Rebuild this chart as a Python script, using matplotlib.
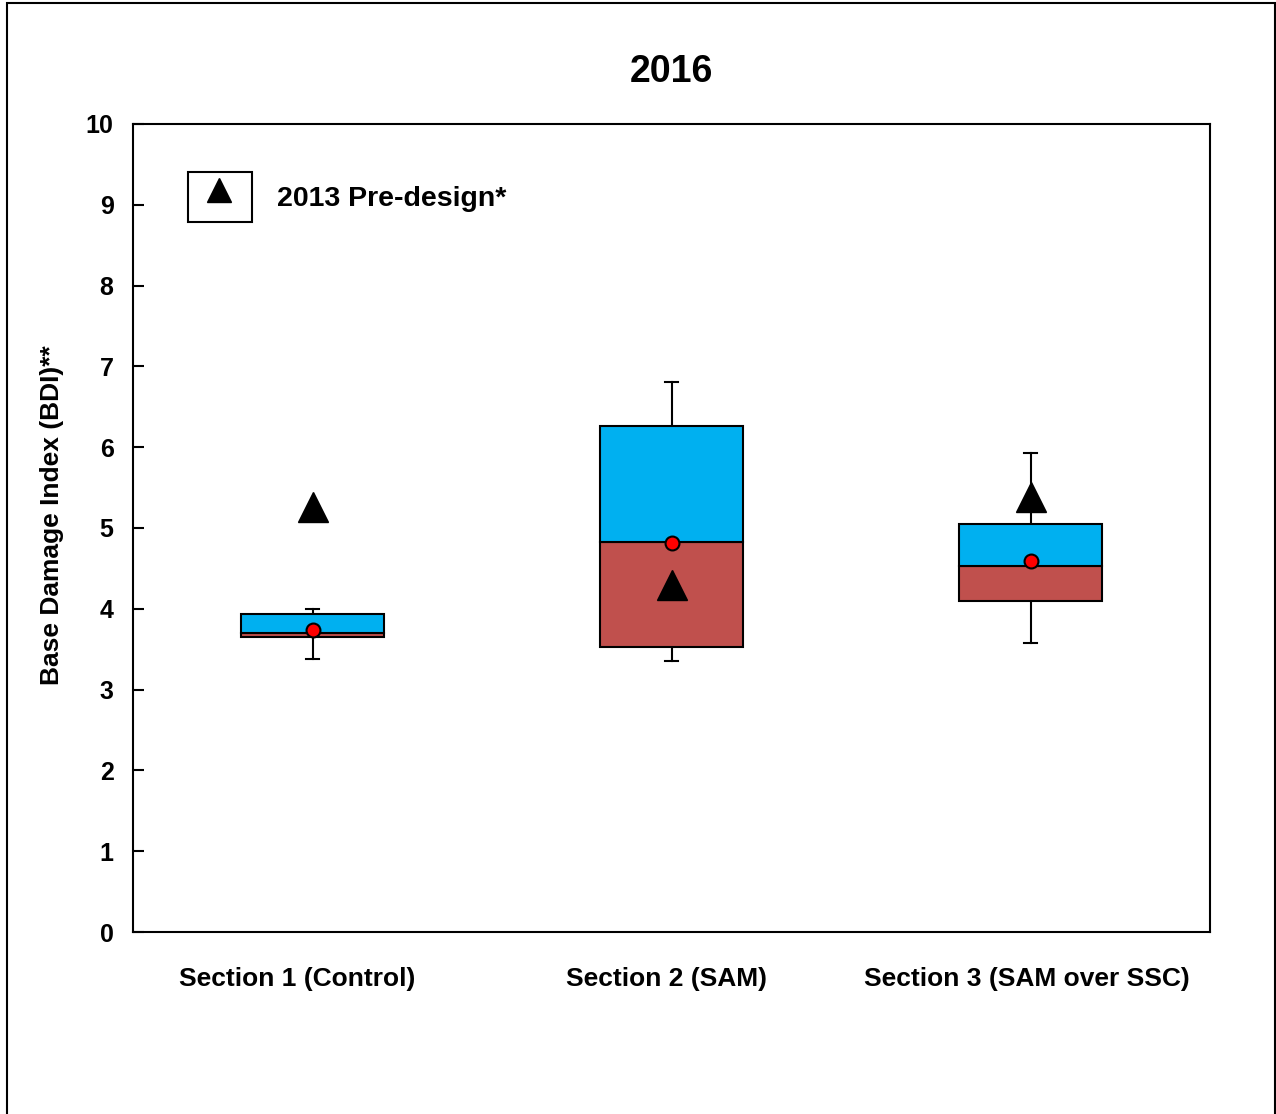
import matplotlib.pyplot as plt
from matplotlib.patches import Rectangle
from matplotlib.transforms import ScaledTranslation

plt.rcParams['font.family'] = ['Liberation Sans', 'DejaVu Sans']
plt.rcParams['font.weight'] = 'bold'

sections = ["Section 1 (Control)", "Section 2 (SAM)", "Section 3 (SAM over SSC)"]
whisker_low = [3.38, 3.35, 3.58]
q1 = [3.65, 3.53, 4.10]
median = [3.70, 4.83, 4.53]
q3 = [3.94, 6.26, 5.05]
whisker_high = [4.00, 6.81, 5.93]
mean = [3.74, 4.81, 4.59]
predesign_2013 = [5.26, 4.29, 5.38]

blue = "#00B0F0"
brown = "#C0504D"

fig = plt.figure(figsize=(12.76, 11.14), dpi=100)
ax = fig.add_axes([133 / 1276, 1 - 932 / 1114, 1077 / 1276, 808 / 1114])

pos = [1, 2, 3]
width = 0.4
lw = 1.5

for i, x in enumerate(pos):
    # whiskers + caps
    ax.plot([x, x], [whisker_low[i], q1[i]], color="black", lw=lw, zorder=1)
    ax.plot([x, x], [q3[i], whisker_high[i]], color="black", lw=lw, zorder=1)
    ax.plot([x - 0.017, x + 0.017], [whisker_low[i]] * 2, color="black", lw=lw, zorder=1)
    ax.plot([x - 0.017, x + 0.017], [whisker_high[i]] * 2, color="black", lw=lw, zorder=1)

# lower half of box (Q1..median) and upper half (median..Q3)
ax.bar(pos, [m - a for m, a in zip(median, q1)], bottom=q1, width=width,
       color=brown, edgecolor="black", linewidth=lw, zorder=2)
ax.bar(pos, [b - m for b, m in zip(q3, median)], bottom=median, width=width,
       color=blue, edgecolor="black", linewidth=lw, zorder=2)

ax.plot(pos, mean, "o", color="red", markersize=10, markeredgecolor="black",
        markeredgewidth=1.5, zorder=4)
ax.plot(pos, predesign_2013, "^", color="black", markersize=22, zorder=3)

ax.set_xlim(0.5, 3.5)
ax.set_ylim(0, 10)
ax.set_yticks(range(0, 11))
ax.tick_params(axis="y", direction="in", length=8, width=lw, labelsize=18, pad=14)
ax.set_xticks(pos)
ax.set_xticklabels(sections, fontsize=19)
ax.tick_params(axis="x", length=0, pad=25)
for lab, dx in zip(ax.get_xticklabels(), [-15, -5, -4]):
    lab.set_transform(lab.get_transform() + ScaledTranslation(dx / 100, 0, fig.dpi_scale_trans))
for s in ax.spines.values():
    s.set_linewidth(lw)

ax.set_ylabel("Base Damage Index (BDI)**", fontsize=19, fontweight="bold")
ax.yaxis.set_label_coords(-0.064, 0.516)
ax.set_title("2016", fontsize=27, fontweight="bold", pad=30)

# legend box with the pre-design marker
ax.add_patch(Rectangle((55 / 1077, 1 - 98 / 808), 64 / 1077, 50 / 808,
                       transform=ax.transAxes, fill=False, lw=lw, zorder=5))
ax.plot([86 / 1077], [1 - 66 / 808], "^", color="black", markersize=17,
        transform=ax.transAxes, clip_on=False, zorder=5)
ax.text(144 / 1077, 1 - 75 / 808, "2013 Pre-design*", transform=ax.transAxes,
        fontsize=20.5, fontweight="bold", va="center", ha="left")

# outer frame
fig.patches.append(Rectangle((7 / 1276, -0.1), 1268 / 1276, 1.1 - 3 / 1114,
                             transform=fig.transFigure, fill=False, lw=1.5,
                             edgecolor="black"))

fig.savefig("out.png", dpi=100)
